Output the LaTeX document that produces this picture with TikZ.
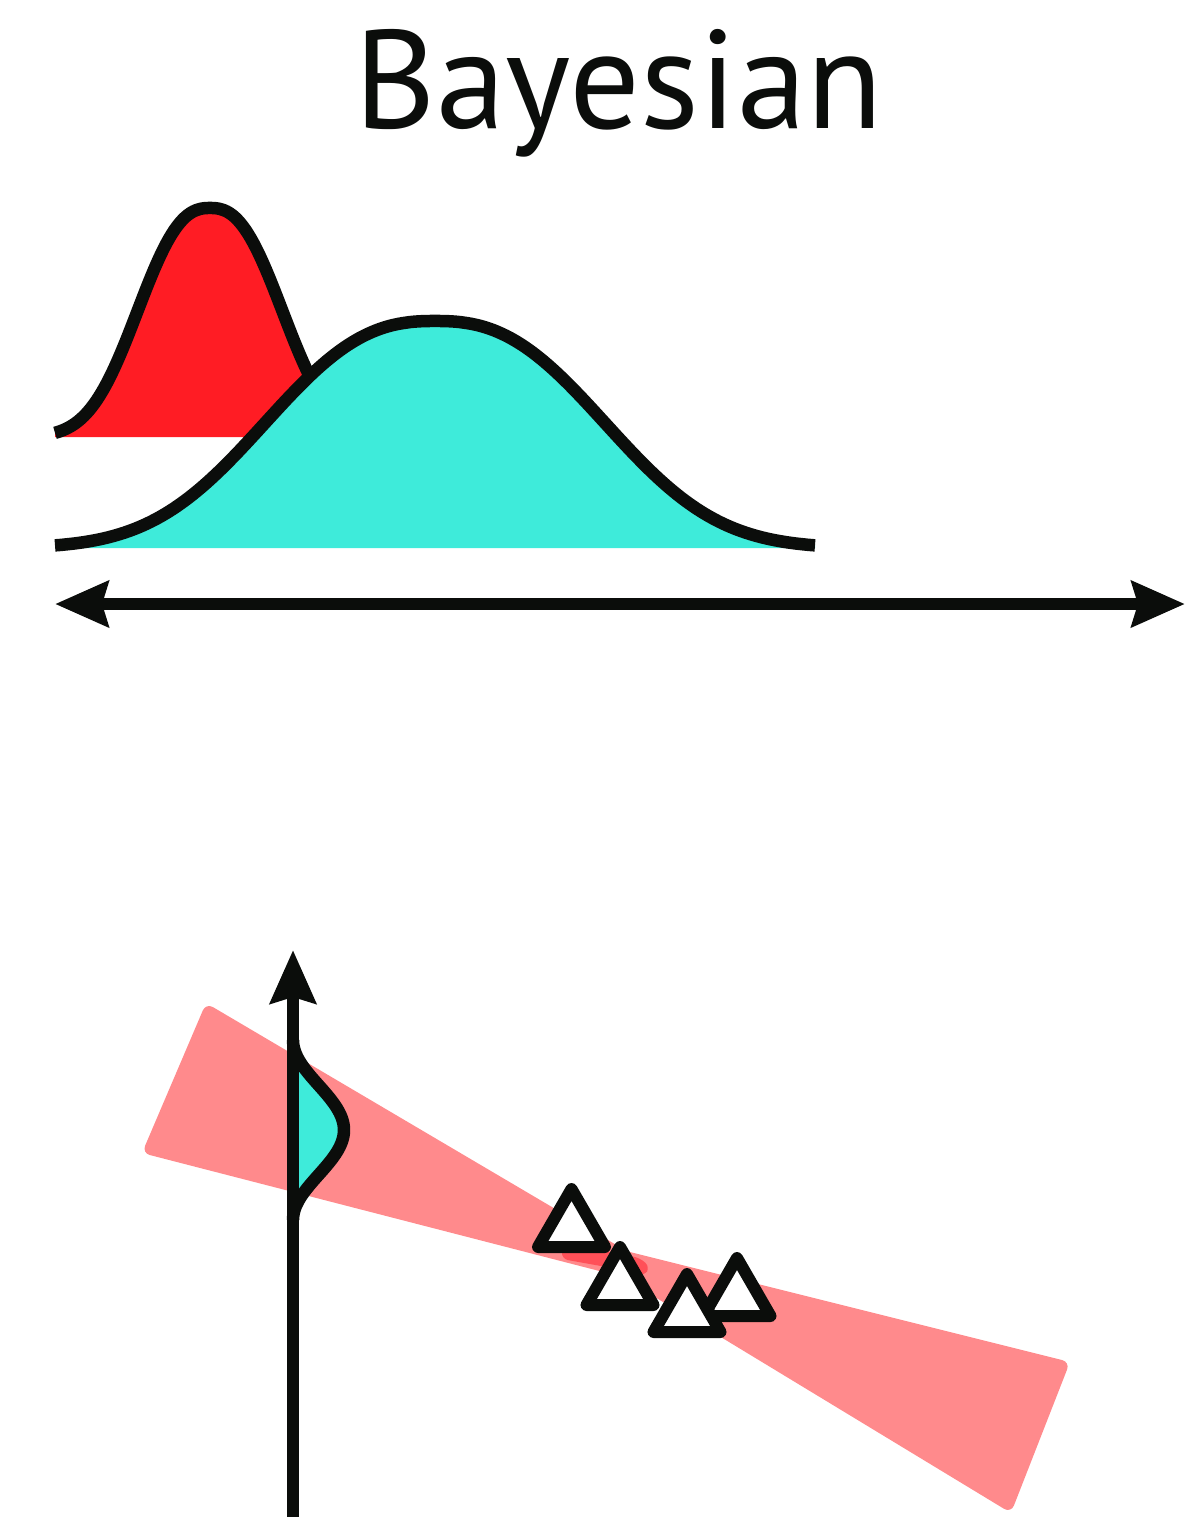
\documentclass[tikz,border=0pt]{standalone}
\usepackage{fontspec}
\setmainfont{PT Sans}
\usetikzlibrary{arrows.meta}
\definecolor{ink}{RGB}{11,13,11}
\definecolor{bred}{RGB}{255,28,36}
\definecolor{bteal}{RGB}{62,235,218}
\definecolor{bpink}{RGB}{255,138,140}
\definecolor{bblob}{RGB}{255,80,88}
\tikzset{
  curve/.style={draw=ink,line width=6.25pt},
  axisline/.style={draw=ink,line width=6.25pt},
  marker/.style={draw=ink,fill=white,line width=6pt,line join=round},
  band/.style={fill=bpink,rounded corners=4pt},
  >={Stealth[length=26.5pt,width=22.5pt,inset=3pt]}
}
\begin{document}
\begin{tikzpicture}[x=0.5pt,y=-0.5pt]
\useasboundingbox (0,0) rectangle (1201,1517);

% title
\node[font=\fontsize{70}{84}\selectfont,anchor=base,text=ink,inner sep=0pt] (title) at (619,128) {Bayesian};

% red distribution
\fill[bred] (55,437) -- plot[domain=55:365,samples=120] (\x,{437-229*exp(-pow(abs(\x-210)/89+0.00001,2.5))}) -- (365,437) -- cycle;
\draw[curve] plot[domain=55:365,samples=120] (\x,{437-229*exp(-pow(abs(\x-210)/89+0.00001,2.5))});

% teal distribution
\fill[bteal] (55,548) -- plot[domain=55:815,samples=200] (\x,{548-227*exp(-pow(abs(\x-435)/209+0.00001,2.5))}) -- (815,548) -- cycle;
\draw[curve] plot[domain=55:815,samples=200] (\x,{548-227*exp(-pow(abs(\x-435)/209+0.00001,2.5))});

% horizontal axis
\coordinate (axL) at (55,604);
\coordinate (axR) at (1185,604);
\draw[axisline,<->] (axL) -- (axR);

% pink band (two wedges)
\fill[band] (206,1003) -- (708,1299) -- (142,1153) -- cycle;
\fill[band] (1070,1362) -- (546,1231) -- (1011,1513) -- cycle;
\fill[bblob,rounded corners=3pt] (562,1249) -- (610,1252) -- (640,1258) -- (650,1267) -- (644,1276) -- (612,1268) -- (562,1259) -- cycle;

% small teal distribution on vertical axis
\fill[bteal] (293,1040) -- plot[domain=1040:1220,samples=80] ({293+51*(1+cos(180*(\x-1130)/90))/2},\x) -- cycle;
\draw[curve] plot[domain=1040:1220,samples=80] ({293+51*(1+cos(180*(\x-1130)/90))/2},\x);

% vertical axis
\coordinate (vbot) at (293,1517);
\coordinate (vtop) at (293,950);
\draw[axisline,->] (vbot) -- (vtop);

% data triangles
\foreach \ax/\ay in {571.5/1189, 620/1247, 737/1258, 687/1274}
  \draw[marker] (\ax,\ay) -- ++(33.5,58) -- ++(-67,0) -- cycle;
\end{tikzpicture}
\end{document}
